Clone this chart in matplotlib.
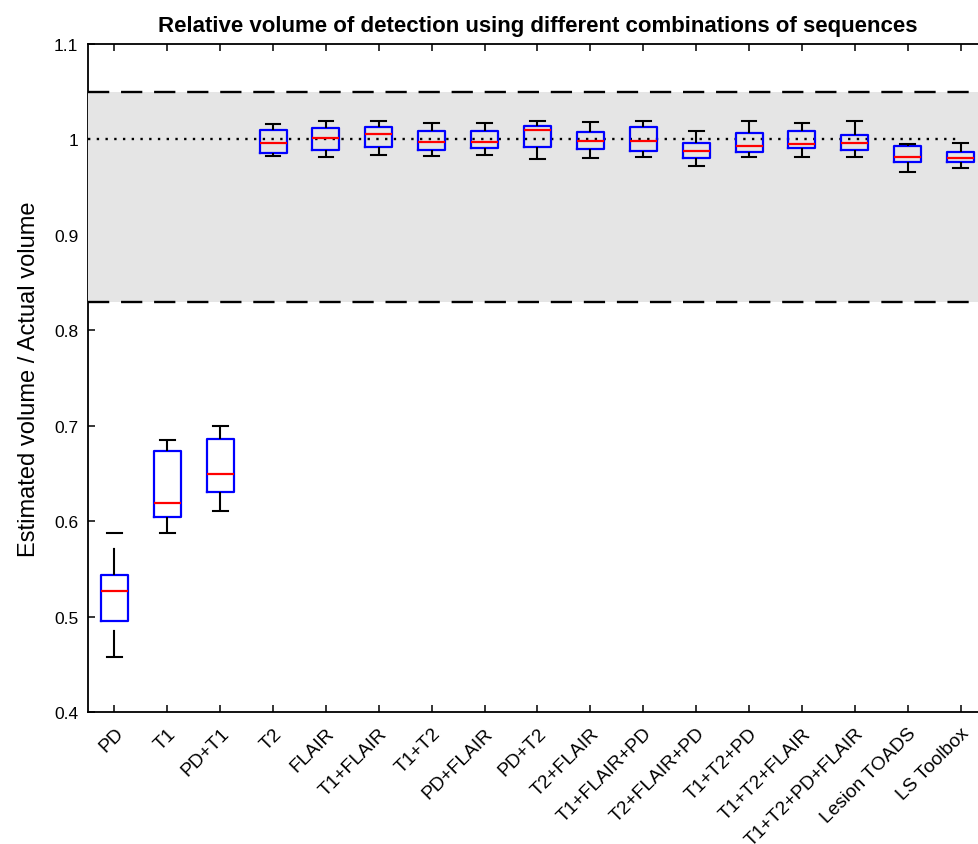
import numpy as np
import matplotlib
matplotlib.use('Agg')
import matplotlib.pyplot as plt

# -----------------------------------------------------------------------------
# Relative volume of detection (box stats)
# -----------------------------------------------------------------------------

labels = ['PD', 'T1', 'PD+T1', 'T2', 'FLAIR', 'T1+FLAIR', 'T1+T2', 'PD+FLAIR',
          'PD+T2', 'T2+FLAIR', 'T1+FLAIR+PD', 'T2+FLAIR+PD', 'T1+T2+PD',
          'T1+T2+FLAIR', 'T1+T2+PD+FLAIR', 'Lesion TOADS', 'LS Toolbox']

whislo = [0.458, 0.588, 0.611, 0.983, 0.982, 0.984, 0.983, 0.984, 0.980,
          0.981, 0.982, 0.972, 0.982, 0.982, 0.982, 0.966, 0.970]
q1 = [0.495, 0.604, 0.631, 0.986, 0.989, 0.992, 0.989, 0.991, 0.992,
      0.990, 0.988, 0.981, 0.987, 0.991, 0.989, 0.976, 0.976]
med = [0.527, 0.619, 0.649, 0.996, 1.001, 1.006, 0.997, 0.997, 1.010,
       0.998, 0.998, 0.988, 0.993, 0.995, 0.996, 0.982, 0.981]
q3 = [0.544, 0.674, 0.686, 1.010, 1.012, 1.013, 1.009, 1.009, 1.014,
      1.008, 1.013, 0.996, 1.007, 1.009, 1.005, 0.993, 0.987]
whishi = [0.588, 0.685, 0.700, 1.016, 1.019, 1.019, 1.017, 1.017, 1.019,
          1.018, 1.019, 1.009, 1.019, 1.017, 1.019, 0.995, 0.996]

band_lo, band_hi = 0.83, 1.05
target = 1.0

plt.rcParams['font.family'] = ['Liberation Sans', 'DejaVu Sans']

fig = plt.figure(figsize=(9.79, 8.45), dpi=100)
ax = fig.add_axes([88 / 979, 1 - 713 / 845, 899 / 979, 668 / 845])

# shaded acceptance band with dashed edges
ax.axhspan(band_lo, band_hi, color='#e5e5e5', lw=0, zorder=3)
for y in (band_lo, band_hi):
    ax.axhline(y, color='black', lw=1.7, dashes=(9, 5), zorder=3.5)

pos = np.arange(1, len(labels) + 1)
ax.plot([0.5, pos[-1]], [target, target], color='black', lw=1.7,
        linestyle=(0, (1, 2.7)), zorder=3.6)

stats = []
for i in range(len(labels)):
    stats.append({'whislo': whislo[i], 'q1': q1[i], 'med': med[i],
                  'q3': q3[i], 'whishi': whishi[i], 'fliers': []})

bp = ax.bxp(stats, positions=pos, widths=0.51, capwidths=0.28,
            patch_artist=False, zorder=4,
            boxprops=dict(color='blue', lw=1.6),
            medianprops=dict(color='red', lw=1.6),
            whiskerprops=dict(color='black', lw=1.5, linestyle=(0, (13, 9))),
            capprops=dict(color='black', lw=1.5))
# lower whiskers: start the dash pattern from the cap end
for w in bp['whiskers'][0::2]:
    xd, yd = w.get_data()
    w.set_data(xd[::-1], yd[::-1])

ax.set_xlim(0.5, len(labels) + 0.5)
ax.set_ylim(0.4, 1.1)
ax.set_yticks(np.arange(0.4, 1.101, 0.1))
ax.set_yticklabels(['0.4', '0.5', '0.6', '0.7', '0.8', '0.9', '1', '1.1'])
ax.set_xticks(pos)
ax.set_xticklabels(labels, rotation=45, ha='right', va='top',
                   rotation_mode='anchor', fontsize=13.8)
ax.tick_params(direction='in', length=5, width=1.1, top=True, right=True,
               labelsize=12.5, pad=7)
ax.tick_params(axis='x', pad=9, labelsize=13.8)
for s in ax.spines.values():
    s.set_linewidth(1.3)

ax.set_ylabel('Estimated volume / Actual volume', fontsize=17, labelpad=10)
ax.set_title('Relative volume of detection using different combinations of sequences',
             fontsize=16, fontweight='bold', pad=9)

fig.savefig('out.png', dpi=100)
